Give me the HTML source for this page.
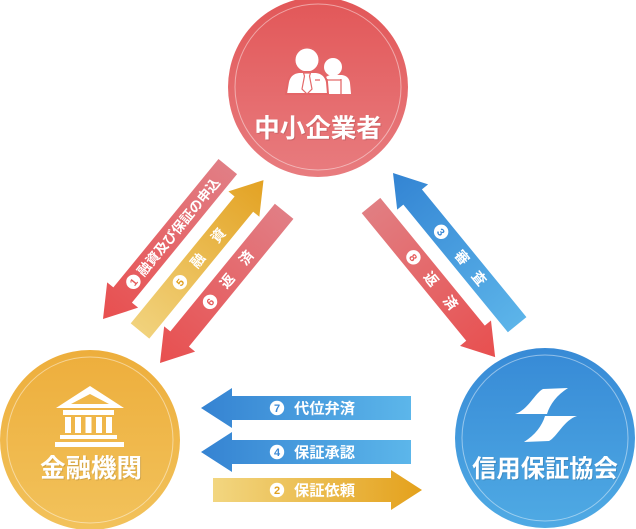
<!DOCTYPE html>
<html>
<head>
<meta charset="utf-8">
<style>
html,body{margin:0;padding:0;background:#fff;}
svg{display:block;}
text{font-family:"Liberation Sans","Noto Sans CJK JP",sans-serif;}
</style>
</head>
<body>
<svg width="636" height="529" viewBox="0 0 636 529" xmlns="http://www.w3.org/2000/svg">
<defs>
  <linearGradient id="cTop" x1="0" y1="0" x2="0" y2="1">
    <stop offset="0" stop-color="#e25758"/>
    <stop offset="1" stop-color="#e87c7f"/>
  </linearGradient>
  <linearGradient id="cLeft" x1="0" y1="0" x2="0" y2="1">
    <stop offset="0" stop-color="#edae3c"/>
    <stop offset="1" stop-color="#f2c25b"/>
  </linearGradient>
  <linearGradient id="cRight" x1="0" y1="0" x2="0" y2="1">
    <stop offset="0" stop-color="#378ad6"/>
    <stop offset="1" stop-color="#4faae4"/>
  </linearGradient>

  <linearGradient id="gRedL" gradientUnits="userSpaceOnUse" x1="0" y1="0" x2="197" y2="0">
    <stop offset="0" stop-color="#e84f4f"/>
    <stop offset="1" stop-color="#e17e85"/>
  </linearGradient>
  <linearGradient id="gRedR" gradientUnits="userSpaceOnUse" x1="0" y1="0" x2="196" y2="0">
    <stop offset="0" stop-color="#e17e82"/>
    <stop offset="1" stop-color="#e84f4f"/>
  </linearGradient>
  <linearGradient id="gYelR" gradientUnits="userSpaceOnUse" x1="0" y1="0" x2="195" y2="0">
    <stop offset="0" stop-color="#f1d27c"/>
    <stop offset="1" stop-color="#e3a223"/>
  </linearGradient>
  <linearGradient id="gBluL" gradientUnits="userSpaceOnUse" x1="0" y1="0" x2="196" y2="0">
    <stop offset="0" stop-color="#3384d3"/>
    <stop offset="1" stop-color="#5cb4e9"/>
  </linearGradient>
  <linearGradient id="gBluH" gradientUnits="userSpaceOnUse" x1="201" y1="0" x2="411" y2="0">
    <stop offset="0" stop-color="#3583d2"/>
    <stop offset="1" stop-color="#5cb6ea"/>
  </linearGradient>
  <linearGradient id="gYelH" gradientUnits="userSpaceOnUse" x1="213" y1="0" x2="422" y2="0">
    <stop offset="0" stop-color="#f2d680"/>
    <stop offset="1" stop-color="#e4a11c"/>
  </linearGradient>
</defs>

<!-- ===== Circles ===== -->
<!-- Top: 中小企業者 -->
<circle cx="318" cy="87" r="90" fill="url(#cTop)"/>
<circle cx="318" cy="87" r="83" fill="none" stroke="#fff" stroke-opacity="0.45" stroke-width="1"/>
<g>
  <circle cx="333" cy="67" r="9" fill="#fff"/>
  <path d="M323,94 L323,83 Q324,76 331,75 L342,75 Q349,76 350,83 L351,94 Z" fill="#fff"/>
  <path d="M327,94 L327,79 M341,94 L341,79 M327,80 L341,80" stroke="#e46a6b" stroke-width="1.3" fill="none"/>
  <circle cx="307" cy="60" r="12.5" fill="#fff" stroke="#e46567" stroke-width="2"/>
  <path d="M286,94 L288,82 Q290,73 299,72 L316,72 Q325,73 327,82 L328,94 Z" fill="#fff" stroke="#e46567" stroke-width="2"/>
  <path d="M303.5,73 L310.5,73 L309.5,76 L312,89 L307,94 L302,89 L304.5,76 Z" fill="#fff" stroke="#e46a6b" stroke-width="1.2"/>
  <path d="M315,80 L320,80" stroke="#e46a6b" stroke-width="1.3"/>
</g>
<text x="319" y="138" font-size="25.5" font-weight="700" fill="#000" fill-opacity="0.12" text-anchor="middle">中小企業者</text>
<text x="318" y="137" font-size="25.5" font-weight="700" fill="#fff" text-anchor="middle">中小企業者</text>

<!-- Left: 金融機関 -->
<circle cx="90" cy="440" r="90" fill="url(#cLeft)"/>
<circle cx="90" cy="440" r="83" fill="none" stroke="#fff" stroke-opacity="0.45" stroke-width="1"/>
<g fill="#fff">
  <polygon points="90,386 56,408 124,408"/>
  <polygon points="90,394 71,404 109,404" fill="#f0b84a"/>
  <rect x="63" y="410" width="51" height="5"/>
  <rect x="65" y="417" width="6" height="16"/>
  <rect x="75" y="417" width="6" height="16"/>
  <rect x="85.5" y="417" width="6" height="16"/>
  <rect x="96" y="417" width="6" height="16"/>
  <rect x="106" y="417" width="6" height="16"/>
  <rect x="60" y="435" width="57" height="4"/>
  <rect x="55" y="442" width="69" height="5"/>
</g>
<text x="92" y="478" font-size="25.5" font-weight="700" fill="#000" fill-opacity="0.12" text-anchor="middle">金融機関</text>
<text x="91" y="477" font-size="25.5" font-weight="700" fill="#fff" text-anchor="middle">金融機関</text>

<!-- Right: 信用保証協会 -->
<circle cx="545" cy="438" r="90" fill="url(#cRight)"/>
<circle cx="545" cy="438" r="83" fill="none" stroke="#fff" stroke-opacity="0.45" stroke-width="1"/>
<g fill="#fff">
  <path d="M515,414 C528,410 535,393 543,389 L568,388 C557,395 550,404 547,414 Z"/>
  <path d="M577,416 C564,420 557,437 549,441 L524,442 C535,435 542,426 545,416 Z"/>
</g>
<text x="546" y="478" font-size="24.3" font-weight="700" fill="#000" fill-opacity="0.12" text-anchor="middle">信用保証協会</text>
<text x="545" y="477" font-size="24.3" font-weight="700" fill="#fff" text-anchor="middle">信用保証協会</text>

<!-- ===== Diagonal arrows: left group ===== -->
<g transform="translate(103,319) rotate(-50.7)">
  <polygon points="0,0 31,-20 31,-12 197,-12 197,12 31,12 31,20" fill="url(#gRedL)"/>
  <circle cx="48" cy="0" r="7.2" fill="#fff"/>
  <text x="48" y="4" font-size="10.5" font-weight="700" fill="#e45a5a" text-anchor="middle">1</text>
  <text x="58" y="5" font-size="13.5" font-weight="700" fill="#fff" textLength="122" lengthAdjust="spacingAndGlyphs">融資及び保証の申込</text>
</g>
<g transform="translate(140,331) rotate(-50.7)">
  <polygon points="0,-12 164,-12 164,-20 195,0 164,20 164,12 0,12" fill="url(#gYelR)"/>
  <circle cx="63" cy="0" r="7.2" fill="#fff"/>
  <text x="63" y="4" font-size="10.5" font-weight="700" fill="#e0a020" text-anchor="middle">5</text>
  <text x="91" y="5" font-size="14" font-weight="700" fill="#fff" text-anchor="middle">融</text>
  <text x="123.5" y="5" font-size="14" font-weight="700" fill="#fff" text-anchor="middle">資</text>
</g>
<g transform="translate(160,363) rotate(-50.7)">
  <polygon points="0,0 31,-20 31,-12 196,-12 196,12 31,12 31,20" fill="url(#gRedL)"/>
  <circle cx="79" cy="0" r="7.2" fill="#fff"/>
  <text x="79" y="4" font-size="10.5" font-weight="700" fill="#e45a5a" text-anchor="middle">6</text>
  <text x="106" y="5" font-size="14" font-weight="700" fill="#fff" text-anchor="middle">返</text>
  <text x="136" y="5" font-size="14" font-weight="700" fill="#fff" text-anchor="middle">済</text>
</g>

<!-- ===== Diagonal arrows: right group ===== -->
<g transform="translate(393,173) rotate(50.7)">
  <polygon points="0,0 31,-20 31,-12 196,-12 196,12 31,12 31,20" fill="url(#gBluL)"/>
  <circle cx="76" cy="0" r="7.2" fill="#fff"/>
  <text x="76" y="4" font-size="10.5" font-weight="700" fill="#3a88d5" text-anchor="middle">3</text>
  <text x="109" y="5" font-size="14" font-weight="700" fill="#fff" text-anchor="middle">審</text>
  <text x="136" y="5" font-size="14" font-weight="700" fill="#fff" text-anchor="middle">査</text>
</g>
<g transform="translate(371,205.5) rotate(50.7)">
  <polygon points="0,-12 165,-12 165,-20 196,0 165,20 165,12 0,12" fill="url(#gRedR)"/>
  <circle cx="67" cy="0" r="7.2" fill="#fff"/>
  <text x="67" y="4" font-size="10.5" font-weight="700" fill="#e45a5a" text-anchor="middle">8</text>
  <text x="95" y="5" font-size="14" font-weight="700" fill="#fff" text-anchor="middle">返</text>
  <text x="125.5" y="5" font-size="14" font-weight="700" fill="#fff" text-anchor="middle">済</text>
</g>

<!-- ===== Horizontal arrows ===== -->
<polygon points="201,408 232,388 232,396 411,396 411,420 232,420 232,428" fill="url(#gBluH)"/>
<circle cx="277" cy="408" r="7.2" fill="#fff"/>
<text x="277" y="412" font-size="11" font-weight="700" fill="#3a88d5" text-anchor="middle">7</text>
<text x="294" y="413.5" font-size="15" font-weight="700" fill="#fff" textLength="61" lengthAdjust="spacingAndGlyphs">代位弁済</text>

<polygon points="201,452 232,432 232,440 411,440 411,464 232,464 232,472" fill="url(#gBluH)"/>
<circle cx="277" cy="452" r="7.2" fill="#fff"/>
<text x="277" y="456" font-size="11" font-weight="700" fill="#3a88d5" text-anchor="middle">4</text>
<text x="294" y="457.5" font-size="15" font-weight="700" fill="#fff" textLength="61" lengthAdjust="spacingAndGlyphs">保証承認</text>

<polygon points="213,478 391,478 391,470 422,490 391,510 391,502 213,502" fill="url(#gYelH)"/>
<circle cx="277" cy="490" r="7.2" fill="#fff"/>
<text x="277" y="494" font-size="11" font-weight="700" fill="#e0a020" text-anchor="middle">2</text>
<text x="294" y="495.5" font-size="15" font-weight="700" fill="#fff" textLength="61" lengthAdjust="spacingAndGlyphs">保証依頼</text>
</svg>
</body>
</html>
